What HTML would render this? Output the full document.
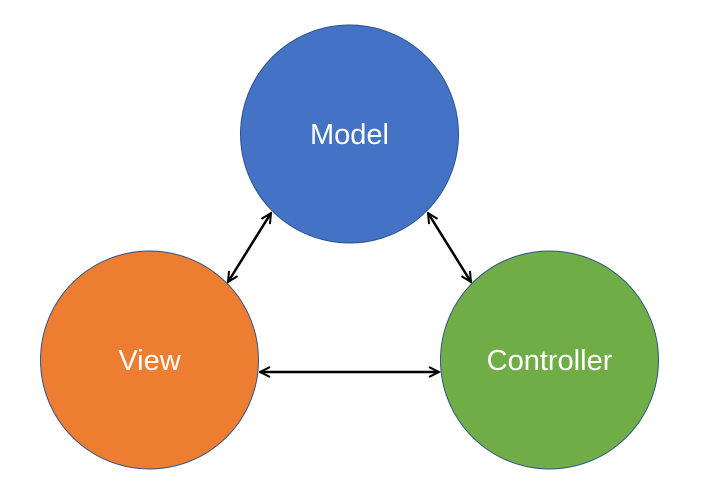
<!DOCTYPE html>
<html><head><style>html,body{margin:0;padding:0;background:#fff}</style></head><body>
<svg width="702" height="485" viewBox="0 0 702 485" xmlns="http://www.w3.org/2000/svg">
<defs>
<marker id="a" viewBox="0 0 10 10" refX="9" refY="5" markerWidth="5" markerHeight="5" orient="auto-start-reverse" markerUnits="strokeWidth">
<path d="M1 1 L9 5 L1 9" fill="none" stroke="#000" stroke-width="1.6"/>
</marker>
</defs>
<circle cx="349.5" cy="134" r="109" fill="#4472C4" stroke="#2F528F" stroke-width="1"/>
<circle cx="149.5" cy="360" r="109" fill="#ED7D31" stroke="#2F528F" stroke-width="1"/>
<circle cx="549.5" cy="360" r="109" fill="#70AD47" stroke="#2F528F" stroke-width="1"/>
<g stroke="#000" stroke-width="2.5" fill="none">
<line x1="271" y1="213" x2="228" y2="282" marker-start="url(#a)" marker-end="url(#a)"/>
<line x1="428" y1="213" x2="471" y2="282" marker-start="url(#a)" marker-end="url(#a)"/>
<line x1="260" y1="372" x2="439" y2="372" marker-start="url(#a)" marker-end="url(#a)"/>
</g>
<g font-family="Liberation Sans, sans-serif" font-size="29" fill="#fff" text-anchor="middle">
<text x="349.5" y="144">Model</text>
<text x="149.5" y="370">View</text>
<text x="549.5" y="370">Controller</text>
</g>
</svg>
</body></html>
